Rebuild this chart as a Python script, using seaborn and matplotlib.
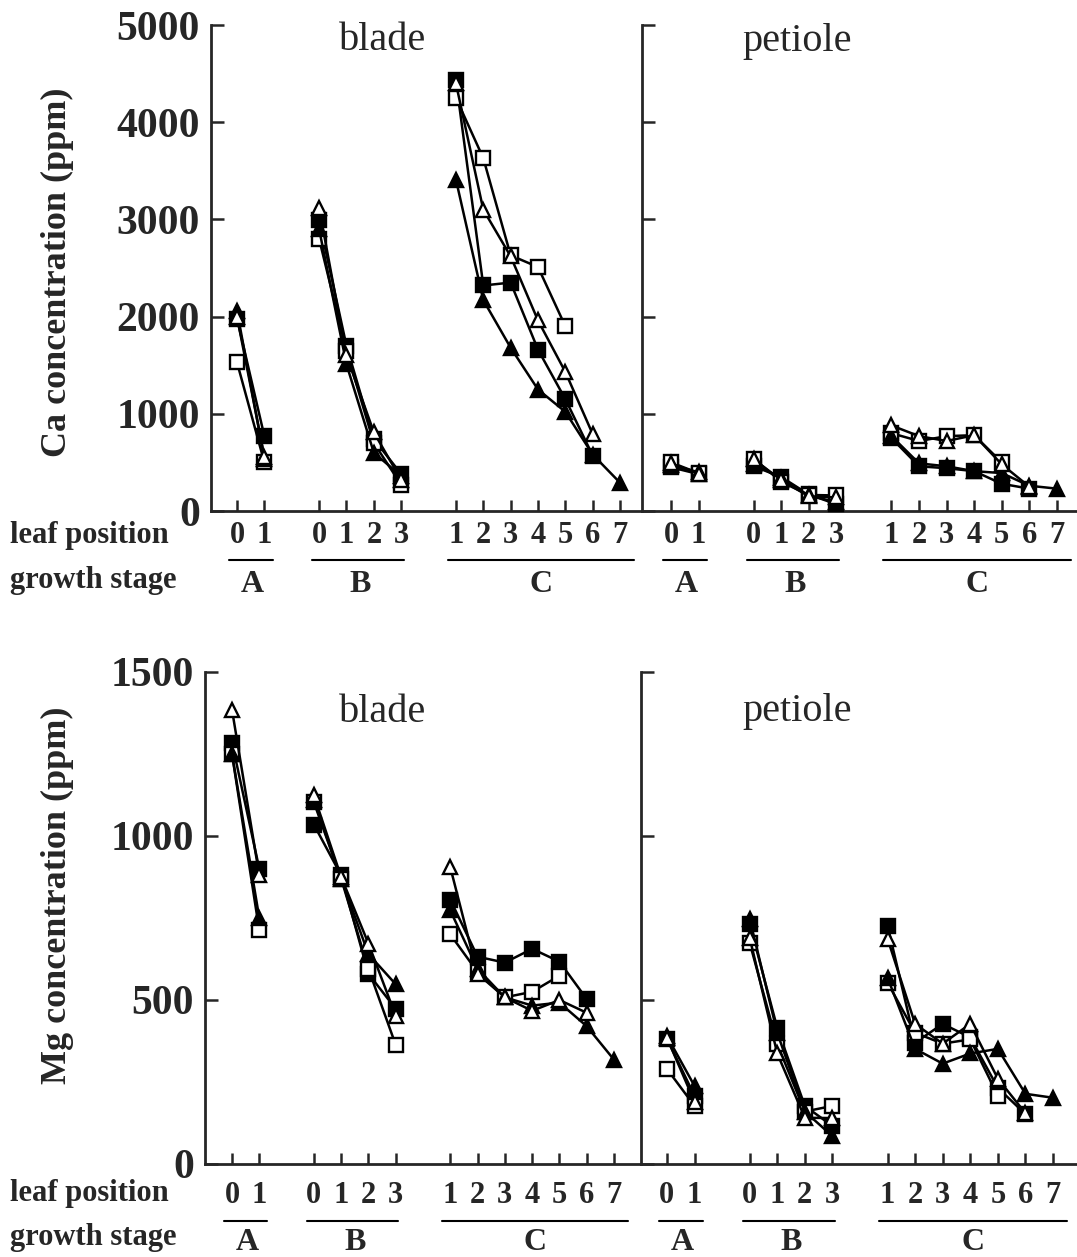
import numpy as np
import pandas as pd
import matplotlib
matplotlib.use("Agg")
import matplotlib.pyplot as plt
import matplotlib.transforms as mtrans
import seaborn as sns

# ---------------- data ----------------
STAGE = ["A", "A", "B", "B", "B", "B", "C", "C", "C", "C", "C", "C", "C"]
LEAF = [0, 1, 0, 1, 2, 3, 1, 2, 3, 4, 5, 6, 7]
STAGE_OFFSET = {"A": 0, "B": 3, "C": 7}
N = None

# Ca (ppm) blade
ca_blade_filled_sq = [1980, 770, 2990, 1700, 740, 380, 4430, 2320, 2350, 1660, 1150, 570, N]
ca_blade_open_sq = [1530, 500, 2800, 1650, 700, 270, 4250, 3630, 2630, 2510, 1900, N, N]
ca_blade_filled_tri = [2060, 540, 2900, 1510, 600, 360, 3410, 2170, 1680, 1250, 1020, 580, 290]
ca_blade_open_tri = [2000, 560, 3120, 1600, 810, 320, 4400, 3100, 2620, 1960, 1430, 790, N]
# Ca (ppm) petiole
ca_pet_filled_sq = [450, 380, 460, 350, 170, 70, 750, 460, 440, 410, 280, 230, N]
ca_pet_open_sq = [500, 390, 540, 300, 165, 160, 800, 720, 770, 780, 500, N, N]
ca_pet_filled_tri = [470, 400, 480, 340, 160, 90, 770, 490, 460, 410, 390, 260, 230]
ca_pet_open_tri = [490, 385, 530, 320, 150, 140, 880, 770, 720, 780, 480, 250, N]
# Mg (ppm) blade
mg_blade_filled_sq = [1285, 900, 1035, 880, 580, 473, 806, 632, 614, 656, 617, 503, N]
mg_blade_open_sq = [1250, 712, 1103, 870, 595, 363, 700, 585, 508, 525, 574, N, N]
mg_blade_filled_tri = [1250, 750, 1110, 870, 640, 548, 773, 595, 508, 483, 492, 420, 318]
mg_blade_open_tri = [1385, 880, 1124, 875, 672, 452, 905, 580, 508, 467, 500, 461, N]
# Mg (ppm) petiole
mg_pet_filled_sq = [382, 208, 733, 415, 177, 116, 727, 370, 427, 386, 232, 152, N]
mg_pet_open_sq = [290, 177, 675, 366, 160, 177, 553, 400, 367, 380, 208, N, N]
mg_pet_filled_tri = [390, 238, 748, 400, 160, 85, 568, 351, 306, 337, 351, 214, 202]
mg_pet_open_tri = [385, 190, 690, 337, 141, 140, 687, 427, 367, 427, 260, 155, N]

SERIES_STYLE = {
    "filled_sq": dict(marker="s", mfc="black", ms=10),
    "open_sq": dict(marker="s", mfc="white", ms=10),
    "filled_tri": dict(marker="^", mfc="black", ms=10),
    "open_tri": dict(marker="^", mfc="white", ms=10),
}

panels = {
    ("Ca", "blade"): dict(filled_sq=ca_blade_filled_sq, open_sq=ca_blade_open_sq,
                          filled_tri=ca_blade_filled_tri, open_tri=ca_blade_open_tri),
    ("Ca", "petiole"): dict(filled_sq=ca_pet_filled_sq, open_sq=ca_pet_open_sq,
                            filled_tri=ca_pet_filled_tri, open_tri=ca_pet_open_tri),
    ("Mg", "blade"): dict(filled_sq=mg_blade_filled_sq, open_sq=mg_blade_open_sq,
                          filled_tri=mg_blade_filled_tri, open_tri=mg_blade_open_tri),
    ("Mg", "petiole"): dict(filled_sq=mg_pet_filled_sq, open_sq=mg_pet_open_sq,
                            filled_tri=mg_pet_filled_tri, open_tri=mg_pet_open_tri),
}

XPOS = [STAGE_OFFSET[s] + l for s, l in zip(STAGE, LEAF)]

rows = []
for (elem, part), d in panels.items():
    for ser, vals in d.items():
        for x, st, v in zip(XPOS, STAGE, vals):
            if v is not None:
                rows.append(dict(elem=elem, part=part, series=ser, stage=st, x=x, value=v))
df = pd.DataFrame(rows)

# ---------------- style ----------------
sns.set_style("ticks")
plt.rcParams["font.family"] = ["Liberation Serif", "DejaVu Serif"]
plt.rcParams["axes.linewidth"] = 2

W, H = 1077, 1257
fig = plt.figure(figsize=(W / 100, H / 100), dpi=100)


def fx(px):
    return px / W


def fy(py):
    return 1 - py / H


layout = {
    ("Ca", "blade"): dict(l=211, r=642, t=25, b=511, xlim=(-0.95, 14.8)),
    ("Ca", "petiole"): dict(l=642, r=1077, t=25, b=511, xlim=(-1.05, 14.73)),
    ("Mg", "blade"): dict(l=205, r=641, t=672, b=1164, xlim=(-0.99, 14.99)),
    ("Mg", "petiole"): dict(l=641, r=1077, t=672, b=1164, xlim=(-0.94, 14.87)),
}
ylims = {"Ca": (0, 5000), "Mg": (0, 1500)}
yticks = {"Ca": [0, 1000, 2000, 3000, 4000, 5000], "Mg": [0, 500, 1000, 1500]}

axes = {}
for key, L in layout.items():
    elem, part = key
    ax = fig.add_axes([fx(L["l"]), fy(L["b"]), fx(L["r"] - L["l"]), (L["b"] - L["t"]) / H])
    axes[key] = ax
    sub = df[(df.elem == elem) & (df.part == part)]
    for ser, st in SERIES_STYLE.items():
        s = sub[sub.series == ser]
        sns.lineplot(data=s, x="x", y="value", units="stage", estimator=None,
                     color="black", lw=1.8, marker=st["marker"], markersize=st["ms"],
                     markerfacecolor=st["mfc"], markeredgecolor="black",
                     markeredgewidth=1.7, ax=ax, legend=False, clip_on=False, zorder=3)
    ax.set_xlim(*L["xlim"])
    ax.set_ylim(*ylims[elem])
    ax.set_yticks(yticks[elem])
    ax.set_xticks(XPOS)
    pad = 7 if elem == "Ca" else 12
    ax.set_xticklabels([str(v) for v in LEAF], fontsize=22, fontweight="bold")
    ax.tick_params(axis="x", direction="in", length=8, width=1.8, pad=pad)
    ax.tick_params(axis="y", direction="in", length=9, width=1.8, pad=8)
    if part == "blade":
        ax.set_yticklabels([str(v) for v in yticks[elem]], fontsize=30, fontweight="bold")
    else:
        ax.set_yticklabels([])
    ax.set_xlabel("")
    ax.set_ylabel("")
    for sp in ["top", "right"]:
        ax.spines[sp].set_visible(False)
    ax.patch.set_alpha(0)

    # underline + stage letters
    tr = mtrans.blended_transform_factory(ax.transData, fig.transFigure)
    uy = 560 if elem == "Ca" else 1221
    ly = 585 if elem == "Ca" else 1242
    for st, (x0, x1, xc) in {"A": (-0.3, 1.3, 0.55), "B": (2.75, 6.1, 4.5),
                              "C": (7.7, 14.5, 11.1)}.items():
        ax.plot([x0, x1], [fy(uy), fy(uy)], transform=tr, color="black", lw=1.5, clip_on=False)
        ax.text(xc, fy(ly), st, transform=tr, ha="center", va="center",
                fontsize=23, fontweight="bold")

# panel titles
for (txt, x, y) in [("blade", 383, 40), ("petiole", 797, 42), ("blade", 383, 712), ("petiole", 797, 712)]:
    fig.text(fx(x), fy(y), txt, ha="center", va="center", fontsize=29)

# y labels
fig.text(fx(57), fy(272), "Ca concentration (ppm)", rotation=90, ha="center", va="center",
         fontsize=26, fontweight="bold")
fig.text(fx(57), fy(895), "Mg concentration (ppm)", rotation=90, ha="center", va="center",
         fontsize=26, fontweight="bold")

# row labels
for (txt, y) in [("leaf position", 536), ("growth stage", 581),
                 ("leaf position", 1194), ("growth stage", 1237)]:
    fig.text(fx(10), fy(y), txt, ha="left", va="center", fontsize=22, fontweight="bold")

fig.savefig("out.png", dpi=100)
